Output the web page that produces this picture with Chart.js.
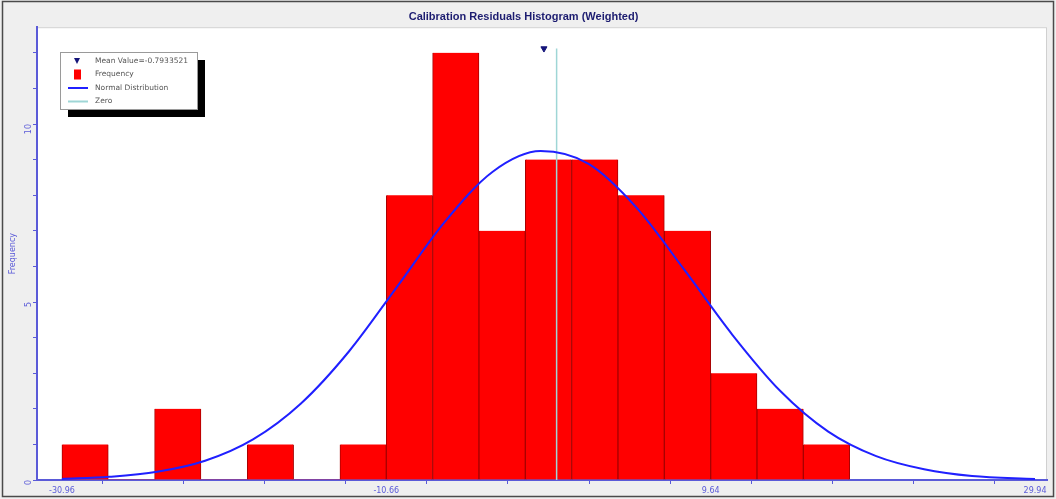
<!DOCTYPE html>
<html>
<head>
<meta charset="utf-8">
<script src="https://cdn.jsdelivr.net/npm/chart.js@4.4.1/dist/chart.umd.min.js"></script>
<style>
  html, body { margin: 0; padding: 0; background: #efefef; }
  #wrap { position: relative; width: 1056px; height: 499px; }
</style>
</head>
<body>
<div id="wrap"><canvas id="c" width="1056" height="499"></canvas></div>
<script>
// Histogram bins (centres of 2.9-wide bins starting at -30.96) and their counts
const binCenters = [-29.51, -26.61, -23.71, -20.81, -17.91, -15.01, -12.11, -9.21, -6.31,
                    -3.41, -0.51, 2.39, 5.29, 8.19, 11.09, 13.99, 16.89];
const binCounts  = [1, 0, 2, 0, 1, 0, 1, 8, 12, 7, 9, 9, 8, 7, 3, 2, 1];

// Fitted normal distribution curve, sampled along the residual axis
const curveX = [-30.96, -28, -25, -22, -19, -16, -13, -10, -7, -4, -1, 2, 5, 8, 11, 14, 17, 20, 23, 26, 29.94];
const curveY = [0.03, 0.09, 0.23, 0.54, 1.14, 2.15, 3.61, 5.42, 7.25, 8.66, 9.24, 8.88, 7.65, 5.9, 4.08, 2.5, 1.36, 0.67, 0.3, 0.11, 0.03];

// Mean residual marker and the zero reference line
const meanValue = -0.7933521;
const markerHeight = 12.12;
const zeroX = 0;

// Axis tick labels
const xMajorTicks = [-30.96, -10.66, 9.64, 29.94];
const yMajorTicks = [0, 5, 10];

const axisBlue = '#5a5ad8';

const frameBg = {
  id: 'frameBg',
  beforeDraw(chart) {
    const { ctx, chartArea: a, width, height } = chart;
    ctx.save();
    ctx.fillStyle = '#efefef';
    ctx.fillRect(0, 0, width, height);
    ctx.fillStyle = '#ffffff';
    ctx.fillRect(a.left, a.top, a.right - a.left, a.bottom - a.top);
    ctx.strokeStyle = '#d0d0d0';
    ctx.lineWidth = 1;
    ctx.strokeRect(a.left + 0.5, a.top + 0.5, a.right - a.left - 1, a.bottom - a.top);
    ctx.restore();
  },
  afterDraw(chart) {
    const { ctx, width, height } = chart;
    ctx.save();
    ctx.strokeStyle = '#4a4a4a';
    ctx.lineWidth = 1.5;
    ctx.strokeRect(2.5, 1.5, width - 5, height - 4);
    ctx.restore();
  }
};

const boxLegend = {
  id: 'boxLegend',
  afterDraw(chart) {
    const { ctx } = chart;
    const x = 60, y = 52, w = 137, h = 57;
    ctx.save();
    ctx.fillStyle = '#000000';
    ctx.fillRect(x + 8, y + 8, w, h);
    ctx.fillStyle = '#ffffff';
    ctx.fillRect(x, y, w, h);
    ctx.strokeStyle = '#9a9a9a';
    ctx.lineWidth = 1;
    ctx.strokeRect(x + 0.5, y + 0.5, w, h);
    ctx.font = '7.5px "DejaVu Sans", Arial, sans-serif';
    ctx.textBaseline = 'middle';
    const ds = chart.data.datasets;
    const rows = [
      { label: ds[3].label, kind: 'tri', color: '#14147a' },
      { label: ds[0].label, kind: 'box', color: '#ff0000' },
      { label: ds[1].label, kind: 'line', color: '#2020ff' },
      { label: ds[2].label, kind: 'line', color: '#9fd6d6' }
    ];
    rows.forEach((r, i) => {
      const cy = y + 9 + i * 13.5;
      if (r.kind === 'tri') {
        ctx.fillStyle = r.color;
        ctx.beginPath();
        ctx.moveTo(74, cy - 3);
        ctx.lineTo(80, cy - 3);
        ctx.lineTo(77, cy + 3);
        ctx.closePath();
        ctx.fill();
      } else if (r.kind === 'box') {
        ctx.fillStyle = r.color;
        ctx.fillRect(74, cy - 5, 7, 10);
      } else {
        ctx.strokeStyle = r.color;
        ctx.lineWidth = 2;
        ctx.beginPath();
        ctx.moveTo(68, cy);
        ctx.lineTo(88, cy);
        ctx.stroke();
      }
      ctx.fillStyle = '#555555';
      ctx.fillText(r.label, 95, cy);
    });
    ctx.restore();
  }
};

new Chart(document.getElementById('c'), {
  type: 'bar',
  data: {
    datasets: [
      {
        type: 'bar',
        label: 'Frequency',
        data: binCenters.map((c, i) => ({ x: c, y: binCounts[i] })),
        backgroundColor: '#ff0000',
        borderColor: '#a80000',
        borderWidth: ctx => (ctx.raw && ctx.raw.y > 0 ? { left: 1, right: 1, top: 0, bottom: 0 } : 0),
        borderSkipped: false,
        barPercentage: 1,
        categoryPercentage: 1,
        order: 4
      },
      {
        type: 'line',
        label: 'Normal Distribution',
        data: curveX.map((x, i) => ({ x, y: curveY[i] })),
        borderColor: '#2020ff',
        borderWidth: 2,
        pointRadius: 0,
        cubicInterpolationMode: 'monotone',
        fill: false,
        order: 2
      },
      {
        type: 'line',
        label: 'Zero',
        data: [{ x: zeroX, y: 0 }, { x: zeroX, y: markerHeight }],
        borderColor: '#9fd6d6',
        borderWidth: 1.5,
        pointRadius: 0,
        fill: false,
        order: 3
      },
      {
        type: 'scatter',
        label: 'Mean Value=' + meanValue,
        data: [{ x: meanValue, y: markerHeight }],
        pointStyle: 'triangle',
        rotation: 180,
        radius: 3.5,
        backgroundColor: '#14147a',
        borderColor: '#14147a',
        order: 1
      }
    ]
  },
  options: {
    responsive: false,
    animation: false,
    layout: { padding: { left: 0, right: 9, top: 0, bottom: 0 } },
    plugins: {
      legend: { display: false },
      tooltip: { enabled: false },
      title: {
        display: true,
        text: 'Calibration Residuals Histogram (Weighted)',
        color: '#1c1c70',
        font: { family: 'Arial, "Liberation Sans", sans-serif', size: 11, weight: 'bold' },
        padding: { top: 10, bottom: 4 }
      }
    },
    scales: {
      x: {
        type: 'linear',
        min: -32.52,
        max: 30.69,
        offset: false,
        afterBuildTicks(scale) {
          const ticks = [];
          for (let i = 0; i < xMajorTicks.length; i++) {
            ticks.push({ value: xMajorTicks[i] });
            if (i < xMajorTicks.length - 1) {
              const step = (xMajorTicks[i + 1] - xMajorTicks[i]) / 4;
              for (let k = 1; k < 4; k++) ticks.push({ value: xMajorTicks[i] + step * k });
            }
          }
          scale.ticks = ticks;
        },
        afterFit(scale) { scale.height = 19; },
        ticks: {
          autoSkip: false,
          maxRotation: 0,
          padding: 2,
          color: axisBlue,
          font: { family: '"DejaVu Sans", sans-serif', size: 8 },
          callback: v => {
            const m = xMajorTicks.find(t => Math.abs(t - v) < 1e-6);
            return m === undefined ? '' : m.toFixed(2);
          }
        },
        grid: { drawOnChartArea: false, drawTicks: true, tickLength: 4, tickColor: axisBlue },
        border: { display: true, color: axisBlue, width: 2 }
      },
      y: {
        min: 0,
        max: 12.72,
        afterFit(scale) { scale.width = 37; },
        ticks: {
          stepSize: 1,
          includeBounds: false,
          autoSkip: false,
          minRotation: 90,
          maxRotation: 90,
          padding: 4,
          color: axisBlue,
          font: { family: '"DejaVu Sans", sans-serif', size: 8 },
          callback: v => (yMajorTicks.includes(v) ? String(v) : '')
        },
        title: {
          display: true,
          text: 'Frequency',
          color: axisBlue,
          font: { family: '"DejaVu Sans", sans-serif', size: 8 },
          padding: { top: 8, bottom: 0 }
        },
        grid: { drawOnChartArea: false, drawTicks: true, tickLength: 4, tickColor: axisBlue },
        border: { display: true, color: axisBlue, width: 2 }
      }
    }
  },
  plugins: [frameBg, boxLegend]
});
</script>
</body>
</html>
